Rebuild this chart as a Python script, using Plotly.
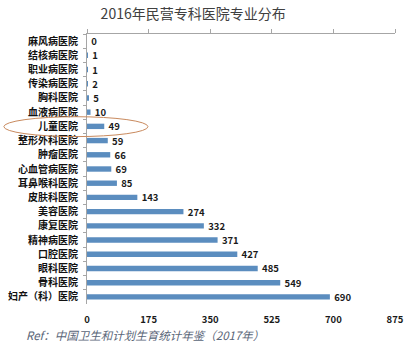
import plotly.graph_objects as go

# Hospital categories, listed top to bottom
categories = [
    "麻风病医院", "结核病医院", "职业病医院", "传染病医院", "胸科医院",
    "血液病医院", "儿童医院", "整形外科医院", "肿瘤医院", "心血管病医院",
    "耳鼻喉科医院", "皮肤科医院", "美容医院", "康复医院", "精神病医院",
    "口腔医院", "眼科医院", "骨科医院", "妇产（科）医院",
]
counts = [0, 1, 1, 2, 5, 10, 49, 59, 66, 69, 85, 143, 274, 332, 371, 427, 485, 549, 690]
x_ticks = [0, 175, 350, 525, 700, 875]
highlight = "儿童医院"

CJK = "Noto Sans CJK SC"
axis_grey = "#a6a6a6"

fig = go.Figure()

fig.add_trace(go.Bar(
    x=counts,
    y=categories,
    orientation="h",
    width=0.38,
    marker=dict(color="#5b8dbf", line=dict(width=0)),
    texttemplate="\u00a0\u00a0%{x}",
    textposition="outside",
    constraintext="none",
    textfont=dict(family=CJK, size=9.5, color="#1a1a1a", weight="bold"),
    cliponaxis=False,
    hoverinfo="skip",
    showlegend=False,
))

# invisible companion trace so the top axis line is drawn
fig.add_trace(go.Scatter(
    x=counts, y=categories, xaxis="x2", mode="markers",
    marker=dict(opacity=0), hoverinfo="skip", showlegend=False,
))

hi = categories.index(highlight)
fig.add_shape(
    type="circle", xref="paper", yref="y",
    x0=-0.27, x1=0.198, y0=hi - 0.68, y1=hi + 0.72,
    line=dict(color="#c98a5e", width=1), layer="above",
)

fig.add_annotation(
    text="Ref：中国卫生和计划生育统计年鉴（2017年）",
    xref="paper", yref="paper", x=-0.205, y=-0.115,
    xanchor="left", yanchor="middle", showarrow=False,
    font=dict(family=CJK, size=11.5, color="#5a6678", style="italic"),
)

fig.update_layout(
    width=411, height=348,
    margin=dict(l=87, r=16, t=34, b=44, autoexpand=False),
    paper_bgcolor="white", plot_bgcolor="white",
    bargap=0.6,
    title=dict(
        text="2016年民营专科医院专业分布",
        x=0.47, xref="container", xanchor="center",
        y=1 - 14 / 348, yref="container", yanchor="middle",
        font=dict(family=CJK, size=14, color="#404040"),
    ),
    xaxis=dict(
        range=[0, 875], tickvals=x_ticks, showgrid=False, zeroline=False,
        showline=False, ticks="", fixedrange=True, automargin=False,
        ticklabelstandoff=8,
        tickfont=dict(family=CJK, size=9.5, color="#1a1a1a", weight="bold"),
    ),
    xaxis2=dict(
        overlaying="x", side="top", anchor="y", range=[0, 875],
        tickvals=x_ticks, showgrid=False, zeroline=False, automargin=False,
        showline=True, linecolor=axis_grey, linewidth=1,
        ticks="outside", ticklen=4, tickcolor=axis_grey,
        showticklabels=False,
    ),
    yaxis=dict(
        type="category", categoryorder="array", categoryarray=categories,
        range=[len(categories) - 0.5, -0.5], automargin=False,
        showgrid=False, zeroline=False,
        showline=True, linecolor=axis_grey, linewidth=1,
        ticks="outside", tickson="boundaries", ticklen=3, tickcolor=axis_grey,
        ticklabelstandoff=6,
        tickfont=dict(family=CJK, size=10, color="#111111", weight="bold"),
    ),
)

fig.write_html("out.html")
